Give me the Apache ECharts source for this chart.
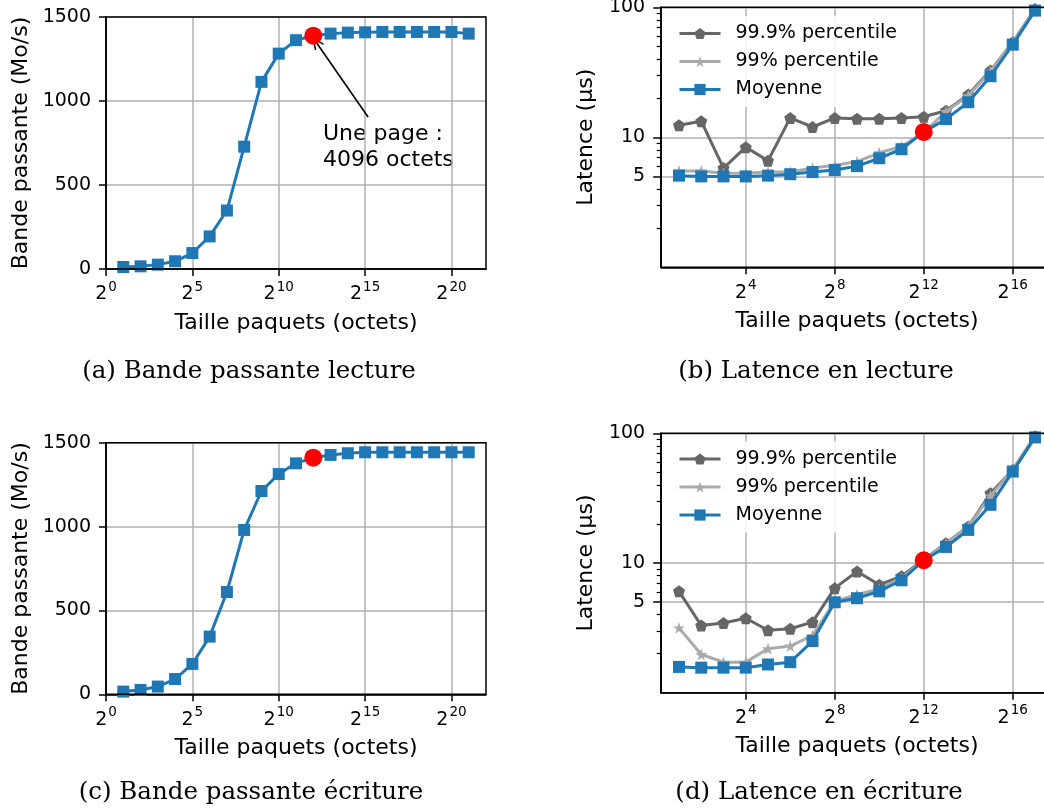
<!DOCTYPE html>
<html>
<head>
<meta charset="utf-8">
<script src="https://cdn.jsdelivr.net/npm/echarts@6/dist/echarts.min.js"></script>
<style>
  html, body { margin: 0; background: #fff; }
  #chart { width: 1044px; height: 811px; }
</style>
</head>
<body>
<div id="chart"></div>
<script>
// Bandwidth / latency of reads and writes vs packet size (log2 x axis).
var BW_SIZES = [2, 4, 8, 16, 32, 64, 128, 256, 512, 1024, 2048, 4096, 8192, 16384,
                32768, 65536, 131072, 262144, 524288, 1048576, 2097152];
var BW_READ  = [12, 16, 26, 46, 95, 194, 348, 728, 1114, 1282, 1362, 1389, 1401, 1407,
                1409, 1411, 1411, 1411, 1411, 1411, 1401];
var BW_WRITE = [16, 26, 46, 91, 181, 344, 610, 980, 1212, 1313, 1377, 1411, 1427, 1437,
                1443, 1443, 1443, 1443, 1443, 1443, 1443];

var LAT_SIZES = [2, 4, 8, 16, 32, 64, 128, 256, 512, 1024, 2048, 4096, 8192, 16384,
                 32768, 65536, 131072];
var LAT_READ_P999 = [12.4, 13.3, 5.8, 8.4, 6.6, 14.1, 12.0, 14.1, 13.9, 13.9, 14.1, 14.4, 16.0, 21.3, 32.6, 53.8, 97];
var LAT_READ_P99  = [5.5, 5.5, 5.3, 5.3, 5.4, 5.4, 5.8, 6.1, 6.5, 7.6, 8.5, 10.9, 15.8, 20.9, 32.2, 53.8, 97];
var LAT_READ_AVG  = [5.07, 5.0, 5.0, 5.0, 5.07, 5.2, 5.4, 5.6, 6.0, 6.9, 8.1, 11.0, 13.8, 18.6, 29.5, 51.6, 94.3];
var LAT_WRITE_P999 = [6.05, 3.3, 3.45, 3.75, 3.03, 3.11, 3.5, 6.4, 8.6, 6.8, 7.9, 10.6, 14.2, 19.1, 34.5, 52.2, 95];
var LAT_WRITE_P99  = [3.16, 1.97, 1.72, 1.72, 2.18, 2.29, 2.76, 5.07, 5.71, 6.31, 7.67, 10.5, 14.1, 19.1, 33, 52.2, 95];
var LAT_WRITE_AVG  = [1.58, 1.56, 1.56, 1.56, 1.65, 1.72, 2.5, 4.98, 5.35, 6.05, 7.36, 10.5, 13.3, 18.0, 28.1, 50.7, 93];

var PAGE_SIZE = 4096;   // highlighted point (red dot)
var BW_X_TICKS = [1, 32, 1024, 32768, 1048576];
var LAT_X_TICKS = [16, 256, 4096, 65536];
var LAT_Y_TICKS = [5, 10, 100];
var LAT_Y_MINOR = [2, 3, 4, 6, 7, 8, 9, 20, 30, 40, 50, 60, 70, 80, 90];
var SERIES_NAMES = ["99.9% percentile", "99% percentile", "Moyenne"];
var CAPTIONS = ["(a) Bande passante lecture", "(b) Latence en lecture",
                "(c) Bande passante écriture", "(d) Latence en écriture"];
// annotation arrow in (a): tail near the text, head at the page point
var ANNOT_TAIL = [36900, 905];
var ANNOT_HEAD = [4575, 1351];

var BLUE = "#1f77b4", DARK = "#666666", LIGHT = "#aaaaaa";
var SANS = "DejaVu Sans";
var PENTAGON = "path://M5,0 L10,3.8 L8.1,10 L1.9,10 L0,3.8 Z";
var STAR = "path://M5,0 L6.2,3.6 L10,3.6 L6.9,5.9 L8.1,9.5 L5,7.3 L1.9,9.5 L3.1,5.9 L0,3.6 L3.8,3.6 Z";
var CHEVRON = "path://M5,0 L10,10 L8.8,10.6 L5,2.6 L1.2,10.6 L0,10 Z";

var GRIDS = [
  { left: 106, top: 17, width: 380, height: 252 },
  { left: 661.2, top: 7.3, width: 391.6, height: 260 },
  { left: 106, top: 442.7, width: 380, height: 251.6 },
  { left: 661.2, top: 433.3, width: 391.6, height: 259.4 }
];

function pairs(xs, ys) {
  return xs.map(function (x, i) { return [x, ys[i]]; });
}

function xAxis(gi, min, max, ticks) {
  return {
    type: "log", logBase: 2, gridIndex: gi, min: min, max: max,
    axisLine: { show: true, onZero: false, lineStyle: { color: "#000", width: 1.5 } },
    axisTick: { show: true, length: 7, customValues: ticks, lineStyle: { color: "#000", width: 1.5 } },
    axisLabel: {
      customValues: ticks, margin: 11,
      formatter: function (v) { return "{b|2}{s|" + Math.round(Math.log(v) / Math.LN2) + "}"; },
      rich: {
        b: { fontSize: 19, fontFamily: SANS, color: "#000", verticalAlign: "bottom", lineHeight: 24 },
        s: { fontSize: 13.5, fontFamily: SANS, color: "#000", verticalAlign: "top", lineHeight: 14, padding: [0, 0, 0, 1] }
      }
    },
    splitLine: { show: true, lineStyle: { color: "#b0b0b0", width: 1.5 } },
    name: "Taille paquets (octets)", nameLocation: "middle", nameGap: 43,
    nameTextStyle: { fontSize: 22, fontFamily: SANS, color: "#000" }
  };
}

function bwYAxis(gi) {
  return {
    type: "value", gridIndex: gi, min: 0, max: 1500, interval: 500,
    axisLine: { show: true, lineStyle: { color: "#000", width: 1.5 } },
    axisTick: { show: true, length: 7, lineStyle: { color: "#000", width: 1.5 } },
    axisLabel: { fontSize: 19, fontFamily: SANS, color: "#000", margin: 15,
                 formatter: function (v) { return String(v); } },
    splitLine: { show: true, lineStyle: { color: "#b0b0b0", width: 1.5 } },
    name: "Bande passante (Mo/s)", nameLocation: "middle", nameGap: 74,
    nameTextStyle: { fontSize: 22, fontFamily: SANS, color: "#000" }
  };
}

function latYAxis(gi) {
  return {
    type: "log", logBase: 10, gridIndex: gi, min: 1, max: 100,
    axisLine: { show: true, lineStyle: { color: "#000", width: 1.5 } },
    axisTick: { show: true, length: 8, customValues: LAT_Y_TICKS, lineStyle: { color: "#000", width: 1.5 } },
    axisLabel: { customValues: LAT_Y_TICKS, fontSize: 19, fontFamily: SANS, color: "#000", margin: 16,
                 formatter: function (v) { return String(Math.round(v)); } },
    splitLine: { show: true, lineStyle: { color: "#b0b0b0", width: 1.5 } },
    name: "Latence (µs)", nameLocation: "middle", nameGap: 64,
    nameTextStyle: { fontSize: 22, fontFamily: SANS, color: "#000" }
  };
}

// second axis on the same grid, only to draw the minor ticks of the log scale
function latMinorAxis(gi) {
  return {
    type: "log", logBase: 10, gridIndex: gi, min: 1, max: 100, position: "left", offset: 0,
    axisLine: { show: true, lineStyle: { color: "#000", width: 1.5 } },
    axisTick: { show: true, length: 4.5, customValues: LAT_Y_MINOR, lineStyle: { color: "#000", width: 1.2 } },
    axisLabel: { show: false },
    splitLine: { show: false }
  };
}

function bwSeries(idx, ys, withArrow) {
  var s = {
    type: "line", xAxisIndex: idx, yAxisIndex: idx === 0 ? 0 : 3,
    data: pairs(BW_SIZES, ys), symbol: "rect", symbolSize: 12,
    itemStyle: { color: BLUE }, lineStyle: { color: BLUE, width: 3 },
    z: 3, animation: false
  };
  if (withArrow) {
    s.markLine = {
      silent: true, symbol: ["none", CHEVRON], symbolSize: [11, 13], animation: false,
      lineStyle: { color: "#000", width: 1.6, type: "solid" }, label: { show: false },
      data: [[{ coord: ANNOT_TAIL }, { coord: ANNOT_HEAD }]]
    };
  }
  return s;
}

function latSeries(xi, yi, p999, p99, avg) {
  return [
    { name: SERIES_NAMES[0], type: "line", xAxisIndex: xi, yAxisIndex: yi, data: pairs(LAT_SIZES, p999),
      symbol: PENTAGON, symbolSize: 12, itemStyle: { color: DARK }, lineStyle: { color: DARK, width: 3 }, z: 3 },
    { name: SERIES_NAMES[1], type: "line", xAxisIndex: xi, yAxisIndex: yi, data: pairs(LAT_SIZES, p99),
      symbol: STAR, symbolSize: 12, itemStyle: { color: LIGHT }, lineStyle: { color: LIGHT, width: 3 }, z: 4 },
    { name: SERIES_NAMES[2], type: "line", xAxisIndex: xi, yAxisIndex: yi, data: pairs(LAT_SIZES, avg),
      symbol: "rect", symbolSize: 12, itemStyle: { color: BLUE }, lineStyle: { color: BLUE, width: 3 }, z: 5 }
  ];
}

function pageDot(xi, yi, xs, ys) {
  var i = xs.indexOf(PAGE_SIZE);
  return { type: "scatter", xAxisIndex: xi, yAxisIndex: yi, data: [[xs[i], ys[i]]],
           symbol: "circle", symbolSize: 18, itemStyle: { color: "#ff0000", opacity: 1 }, z: 10 };
}

function legend(top) {
  return {
    orient: "vertical", left: 670, top: top, padding: [8, 10, 8, 8], itemGap: 9,
    itemWidth: 41, itemHeight: 14, data: SERIES_NAMES,
    backgroundColor: "rgba(255,255,255,0.85)", borderWidth: 0,
    lineStyle: { width: 3 },
    textStyle: { fontSize: 19, fontFamily: SANS, color: "#000", padding: [0, 0, 0, 10] }
  };
}

var captionPos = [[249, 372], [816, 372], [251, 793], [819, 793]];
var graphics = GRIDS.map(function (g) {
  return { type: "rect", z: 100, silent: true,
           shape: { x: g.left, y: g.top, width: g.width, height: g.height },
           style: { fill: null, stroke: "#000", lineWidth: 1.5 } };
});
CAPTIONS.forEach(function (c, i) {
  graphics.push({ type: "text", x: captionPos[i][0], y: captionPos[i][1], silent: true,
    style: { text: c, fill: "#000", font: '24.5px "DejaVu Serif"', align: "center", verticalAlign: "middle" } });
});
graphics.push({ type: "text", x: 323, y: 122, silent: true,
  style: { text: "Une page :\n4096 octets", fill: "#000", font: '22px "DejaVu Sans"', lineHeight: 25.5,
           align: "left", verticalAlign: "top" } });

var chart = echarts.init(document.getElementById("chart"));
chart.setOption({
  animation: false,
  backgroundColor: "#fff",
  grid: GRIDS.map(function (g) {
    return { left: g.left, top: g.top, width: g.width, height: g.height,
             containLabel: false, outerBoundsMode: "none" };
  }),
  xAxis: [
    xAxis(0, 1, Math.pow(2, 22), BW_X_TICKS),
    xAxis(1, Math.pow(2, 0.2), Math.pow(2, 17.8), LAT_X_TICKS),
    xAxis(2, 1, Math.pow(2, 22), BW_X_TICKS),
    xAxis(3, Math.pow(2, 0.2), Math.pow(2, 17.8), LAT_X_TICKS)
  ],
  yAxis: [bwYAxis(0), latYAxis(1), latMinorAxis(1), bwYAxis(2), latYAxis(3), latMinorAxis(3)],
  legend: [legend(16), legend(441.5)],
  series: [
    bwSeries(0, BW_READ, true),
    pageDot(0, 0, BW_SIZES, BW_READ),
    bwSeries(2, BW_WRITE, false),
    pageDot(2, 3, BW_SIZES, BW_WRITE)
  ].concat(latSeries(1, 1, LAT_READ_P999, LAT_READ_P99, LAT_READ_AVG))
   .concat([pageDot(1, 1, LAT_SIZES, LAT_READ_AVG)])
   .concat(latSeries(3, 4, LAT_WRITE_P999, LAT_WRITE_P99, LAT_WRITE_AVG))
   .concat([pageDot(3, 4, LAT_SIZES, LAT_WRITE_AVG)]),
  graphic: graphics
});
</script>
</body>
</html>
